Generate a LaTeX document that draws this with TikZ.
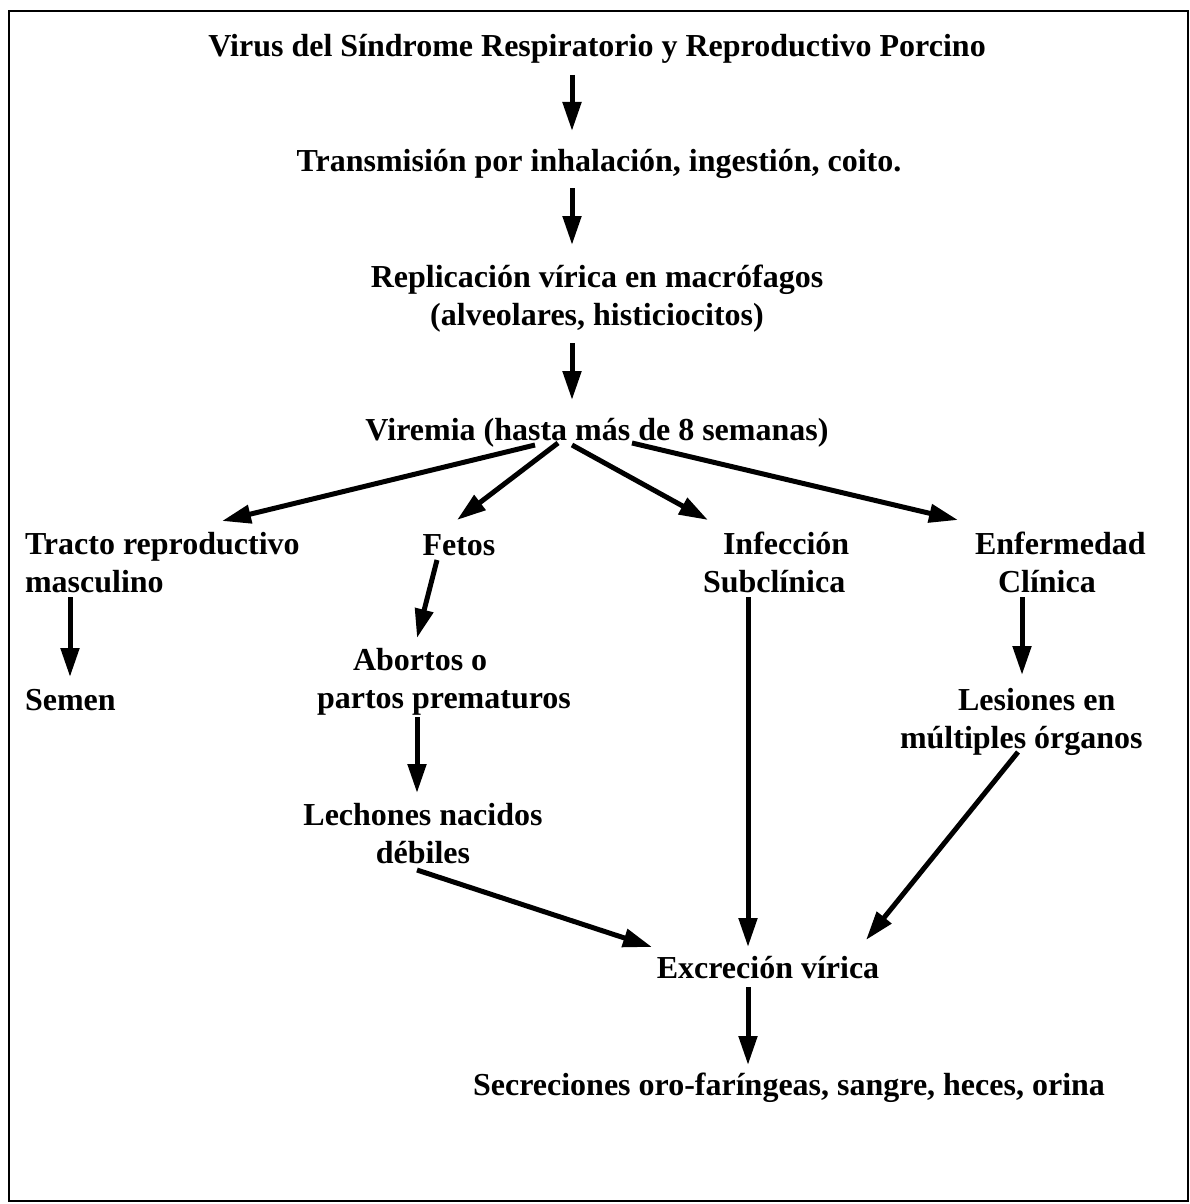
\documentclass[tikz,border=0pt]{standalone}
\usepackage{fontspec}
\setmainfont{Liberation Serif}
\usetikzlibrary{arrows.meta,calc}
\tikzset{
  lbl/.style={inner sep=0pt, outer sep=0pt, font=\fontsize{32}{37.5}\selectfont\bfseries},
  arr/.style={line width=5pt, -{Triangle[length=29pt,width=18pt]}},
}
\begin{document}
\begin{tikzpicture}[x=1pt,y=-1pt]
\useasboundingbox (0,0) rectangle (1190,1204);
\draw[line width=2.5pt] (9,11) rectangle (1188,1201);

\node[lbl,anchor=base] (title) at (597,57) {Virus del Síndrome Respiratorio y Reproductivo Porcino};
\node[lbl,anchor=base] (trans) at (599,171) {Transmisión por inhalación, ingestión, coito.};
\node[lbl,anchor=base,align=center] (repl) at (597,325) {Replicación vírica en macrófagos\\(alveolares, histiciocitos)};
\node[lbl,anchor=base] (vir) at (597,440) {Viremia (hasta más de 8 semanas)};
\node[lbl,anchor=base west,align=left] (tracto) at (25,592) {Tracto reproductivo\\masculino};
\node[lbl,anchor=base west] (semen) at (25,710) {Semen};
\node[lbl,anchor=base] (fetos) at (459,555) {Fetos};
\node[lbl,anchor=base west,align=left] (abortos) at (317,708) {\hspace*{36pt}Abortos o\\partos prematuros};
\node[lbl,anchor=base,align=center] (lech) at (423,863) {Lechones nacidos\\débiles};
\node[lbl,anchor=base west,align=left] (infe) at (703,592) {\hspace*{20pt}Infección\\Subclínica};
\node[lbl,anchor=base west,align=left] (enf) at (975,592) {Enfermedad\\\hspace*{23pt}Clínica};
\node[lbl,anchor=base west,align=left] (les) at (900,748) {\hspace*{58pt}Lesiones en\\múltiples órganos};
\node[lbl,anchor=base] (exc) at (768,978) {Excreción vírica};
\node[lbl,anchor=base] (sec) at (789,1095) {Secreciones oro-faríngeas, sangre, heces, orina};

\draw[arr] ($(title.base)+(-25,18)$) -- ($(trans.base)+(-27,-40)$);
\draw[arr] ($(trans.base)+(-27,17)$) -- ($(repl.base)+(-25,-80)$);
\draw[arr] ($(repl.base)+(-25,18)$) -- ($(vir.base)+(-25,-40)$);
\draw[arr] ($(vir.base)+(-62,5)$) -- ($(tracto.base west)+(197,-71)$);
\draw[arr] ($(vir.base)+(-39,3)$) -- ($(fetos.base)+(-2,-35)$);
\draw[arr] ($(vir.base)+(-25,5)$) -- ($(infe.base west)+(5,-72)$);
\draw[arr] ($(vir.base)+(35,3)$) -- ($(enf.base west)+(-17,-72)$);
\draw[arr] ($(tracto.base west)+(45,5)$) -- ($(semen.base west)+(45,-33)$);
\draw[arr] ($(fetos.base)+(-22,5)$) -- ($(abortos.base west)+(100,-70)$);
\draw[arr] ($(abortos.base west)+(100,9)$) -- ($(lech.base)+(-6,-70)$);
\draw[arr] ($(lech.base)+(-6,7)$) -- ($(exc.base)+(-116,-31)$);
\draw[arr] ($(infe.base west)+(45,5)$) -- ($(exc.base)+(-20,-31)$);
\draw[arr] ($(enf.base west)+(47,5)$) -- ($(les.base west)+(122,-73)$);
\draw[arr] ($(les.base west)+(118,4)$) -- ($(exc.base)+(98,-38)$);
\draw[arr] ($(exc.base)+(-20,9)$) -- ($(sec.base)+(-41,-30)$);
\end{tikzpicture}
\end{document}
